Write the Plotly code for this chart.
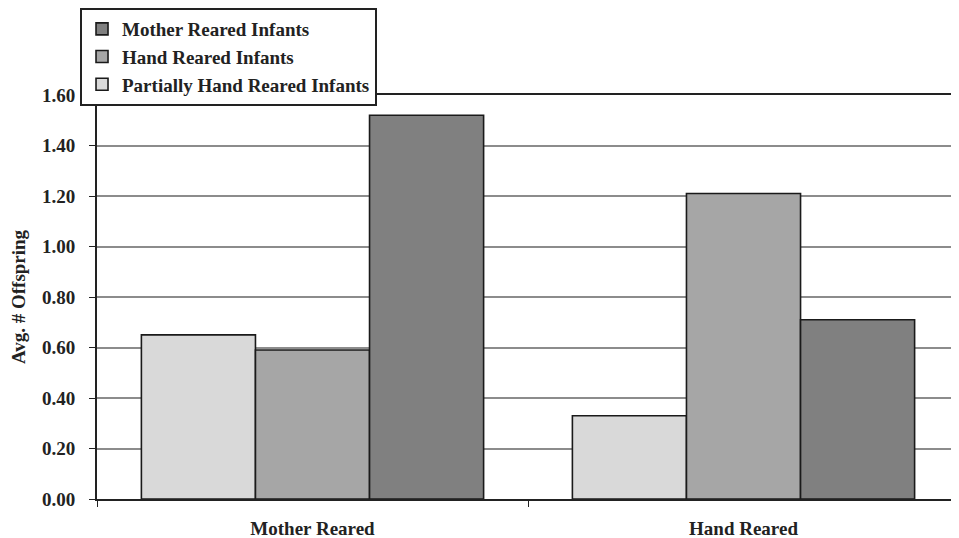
import plotly.graph_objects as go

categories = ["Mother Reared", "Hand Reared"]
series_names = ["Partially Hand Reared Infants", "Hand Reared Infants", "Mother Reared Infants"]
legend_ranks = [3, 2, 1]
partial_vals = [0.65, 0.33]
hand_vals = [0.59, 1.21]
mother_vals = [1.52, 0.71]
colors = ["#d9d9d9", "#a6a6a6", "#808080"]
y_ticks = [0.0, 0.2, 0.4, 0.6, 0.8, 1.0, 1.2, 1.4, 1.6]
y_ticklabels = ["0.00", "0.20", "0.40", "0.60", "0.80", "1.00", "1.20", "1.40", "1.60"]

FONT = "Liberation Serif, Times New Roman, serif"
FS = 19

fig = go.Figure()
for name, vals, col, rk in zip(series_names, [partial_vals, hand_vals, mother_vals], colors, legend_ranks):
    fig.add_trace(go.Bar(
        name=name, x=categories, y=vals, legendgroup=name, legendrank=rk,
        marker=dict(color=col, line=dict(color="#1a1a1a", width=1.6)),
    ))

fig.update_layout(
    width=951, height=530,
    margin=dict(l=89, r=0, t=87, b=39, autoexpand=False),
    paper_bgcolor="white", plot_bgcolor="white",
    barmode="group", bargap=0.206, bargroupgap=0,
    font=dict(family=FONT, size=FS, color="#222", weight=700),
    showlegend=True,
    legend=dict(
        x=-0.0197, y=1.2153, xanchor="left", yanchor="top",
        traceorder="grouped", tracegroupgap=0,
        bordercolor="#222", borderwidth=2, bgcolor="white",
        font=dict(family=FONT, size=FS, color="#222", weight=700),
        itemwidth=30,
    ),
    xaxis=dict(
        showline=True, linecolor="#222", linewidth=2, mirror=True,
        ticks="outside", tickson="boundaries", ticklen=6, tickcolor="#222",
        tickfont=dict(family=FONT, size=FS, color="#222", weight=700),
        ticklabelstandoff=11,
        showgrid=False, automargin=False,
    ),
    yaxis=dict(
        range=[0, 1.6], tickvals=y_ticks, ticktext=y_ticklabels,
        showline=True, linecolor="#222", linewidth=2,
        ticks="outside", ticklen=6, tickcolor="#222",
        ticklabelstandoff=10,
        showgrid=True, gridcolor="#8c8c8c", gridwidth=1.5,
        tickfont=dict(family=FONT, size=FS, color="#222", weight=700),
        title=dict(text="Avg. # Offspring", font=dict(family=FONT, size=19, color="#222", weight=700), standoff=12),
        zeroline=False, automargin=False,
    ),
)

fig.write_html("out.html")
